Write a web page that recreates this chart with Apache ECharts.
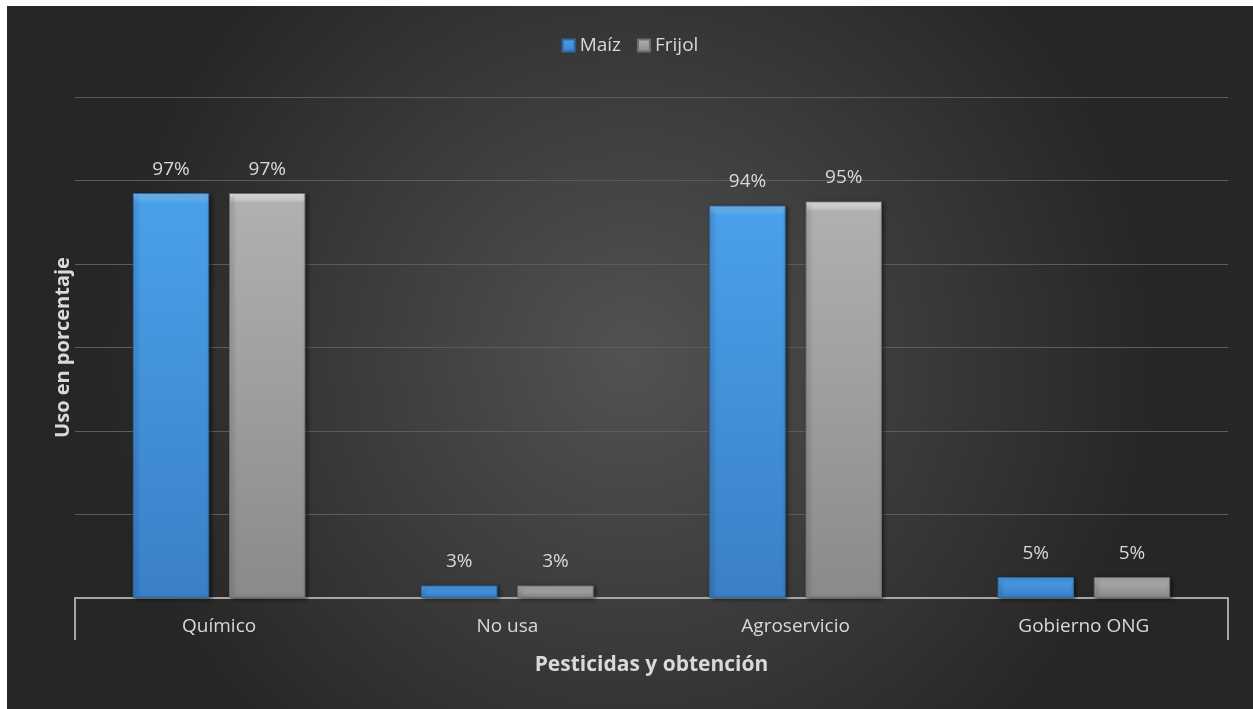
<!DOCTYPE html>
<html>
<head>
<meta charset="utf-8">
<script src="https://cdn.jsdelivr.net/npm/echarts@6/dist/echarts.min.js"></script>
<style>
html,body{margin:0;padding:0;background:#ffffff;}
#c{position:absolute;left:7px;top:6px;width:1246px;height:703px;}
</style>
</head>
<body>
<div id="c"></div>
<script>
var categories = ['Químico', 'No usa', 'Agroservicio', 'Gobierno ONG'];
var seriesNames = ['Maíz', 'Frijol'];
var maiz = [97, 3, 94, 5];
var frijol = [97, 3, 95, 5];
var yTicks = [0, 20, 40, 60, 80, 100, 120];

var FONT = '"Open Sans", "Noto Sans", sans-serif';
var chart = echarts.init(document.getElementById('c'));

function barStyle(top, mid, bot, edge) {
  return {
    color: new echarts.graphic.LinearGradient(0, 0, 0, 1, [
      {offset: 0, color: top},
      {offset: 0.025, color: mid},
      {offset: 1, color: bot}
    ]),
    borderColor: edge,
    borderWidth: 1,
    shadowColor: 'rgba(0,0,0,0.55)',
    shadowBlur: 4,
    shadowOffsetX: 2,
    shadowOffsetY: 1
  };
}

var option = {
  backgroundColor: new echarts.graphic.RadialGradient(0.5, 0.5, 0.75, [
    {offset: 0, color: '#525252'},
    {offset: 1, color: '#262626'}
  ]),
  textStyle: {fontFamily: FONT},
  legend: {
    data: seriesNames,
    top: 25,
    left: 'center',
    itemWidth: 12,
    itemHeight: 12,
    itemGap: 16,
    icon: 'rect',
    textStyle: {color: '#d9d9d9', fontSize: 19, fontFamily: FONT}
  },
  grid: {left: 68, right: 25, top: 91, bottom: 111, containLabel: false},
  xAxis: [{
    type: 'category',
    data: categories,
    axisLine: {lineStyle: {color: '#a6a6a6', width: 2}},
    axisTick: {show: false},
    axisLabel: {color: '#d9d9d9', fontSize: 19, margin: 19, fontFamily: FONT},
    name: 'Pesticidas y obtención',
    nameLocation: 'middle',
    nameGap: 57,
    nameTextStyle: {color: '#d9d9d9', fontSize: 21, fontWeight: 'bold', fontFamily: FONT}
  }, {
    type: 'value',
    position: 'bottom',
    min: 0, max: 1, interval: 1,
    axisLine: {show: false},
    axisLabel: {show: false},
    splitLine: {show: false},
    axisTick: {show: true, length: 42, lineStyle: {color: '#a6a6a6', width: 2}}
  }],
  yAxis: {
    type: 'value',
    min: yTicks[0],
    max: yTicks[yTicks.length - 1],
    interval: yTicks[1] - yTicks[0],
    axisLabel: {show: false},
    axisLine: {show: false},
    axisTick: {show: false},
    splitLine: {lineStyle: {color: '#5c5c5c', width: 1}},
    name: 'Uso en porcentaje',
    nameLocation: 'middle',
    nameGap: 2,
    nameTextStyle: {color: '#d9d9d9', fontSize: 20, fontWeight: 'bold', fontFamily: FONT}
  },
  series: [{
    name: seriesNames[0],
    type: 'bar',
    xAxisIndex: 0,
    data: maiz,
    barWidth: '26.5%',
    barGap: '26%',
    itemStyle: barStyle('#7cc0f7', '#4aa0ea', '#3a80c6', '#2f6aa6'),
    label: {show: true, position: 'top', distance: 14, color: '#d9d9d9', fontSize: 19, fontFamily: FONT,
      formatter: function (p) { return p.value + '%'; }}
  }, {
    name: seriesNames[1],
    type: 'bar',
    xAxisIndex: 0,
    data: frijol,
    barWidth: '26.5%',
    barGap: '26%',
    itemStyle: barStyle('#f2f2f2', '#b0b0b0', '#8a8a8a', '#6f6f6f'),
    label: {show: true, position: 'top', distance: 14, color: '#d9d9d9', fontSize: 19, fontFamily: FONT,
      formatter: function (p) { return p.value + '%'; }}
  }]
};
chart.setOption(option);
</script>
</body>
</html>
